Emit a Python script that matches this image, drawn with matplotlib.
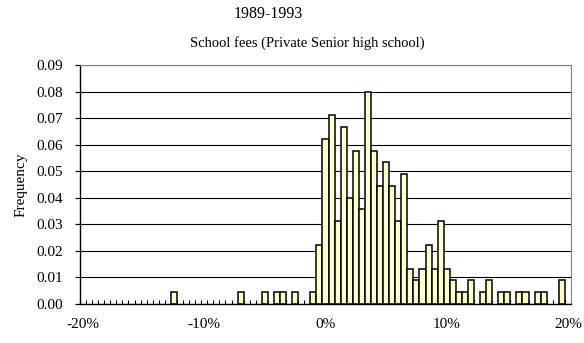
import numpy as np
import matplotlib
matplotlib.use("Agg")
import matplotlib.pyplot as plt
from matplotlib.ticker import FixedLocator

plt.rcParams['font.family'] = ['Liberation Serif', 'DejaVu Serif']

# Histogram bins (%, centre of each 0.5% class) that have a non-zero bar
bin_pct = [-12.5, -7.0, -5.0, -4.0, -3.5, -2.5, -1.0, -0.5,
           0.0, 0.5, 1.0, 1.5, 2.0, 2.5, 3.0, 3.5, 4.0, 4.5,
           5.0, 5.5, 6.0, 6.5, 7.0, 7.5, 8.0, 8.5, 9.0, 9.5,
           10.0, 10.5, 11.0, 11.5, 12.0, 13.0, 13.5, 14.5, 15.0,
           16.0, 16.5, 17.5, 18.0, 19.5]
freq = [0.0044, 0.0044, 0.0044, 0.0044, 0.0044, 0.0044, 0.0044, 0.0222,
        0.0622, 0.0711, 0.0311, 0.0667, 0.0400, 0.0578, 0.0356, 0.0800, 0.0578, 0.0444,
        0.0533, 0.0444, 0.0311, 0.0489, 0.0133, 0.0089, 0.0133, 0.0222, 0.0133, 0.0311,
        0.0133, 0.0089, 0.0044, 0.0044, 0.0089, 0.0044, 0.0089, 0.0044, 0.0044,
        0.0044, 0.0044, 0.0044, 0.0044, 0.0089]

x_ticks = [-20, -10, 0, 10, 20]
x_labels = ['-20%', '-10%', '0%', '10%', '20%']
y_ticks = [0.00, 0.01, 0.02, 0.03, 0.04, 0.05, 0.06, 0.07, 0.08, 0.09]

fig = plt.figure(figsize=(5.84, 3.43), dpi=100)
ax = fig.add_axes([0.137, 0.1137, 0.8407, 0.6968])

ax.bar(bin_pct, freq, width=0.5, color='#ffffcc', edgecolor='black', linewidth=1.1)

ax.set_xlim(-20.25, 20.25)
ax.set_ylim(0, 0.09)

# y axis
ax.set_yticks(y_ticks)
ax.set_yticklabels(['%.2f' % v for v in y_ticks])
ax.tick_params(axis='y', direction='out', length=3.6, width=0.9, pad=9, labelsize=11)
ax.yaxis.grid(True, color='black', linewidth=0.8)
ax.set_axisbelow(True)

# x axis: labels every 10%, small inside marks at class boundaries
ax.set_xticks(x_ticks)
ax.set_xticklabels(x_labels)
ax.tick_params(axis='x', which='major', length=0, pad=10, labelsize=11)
ax.xaxis.set_minor_locator(FixedLocator(np.arange(-20.25, 20.3, 0.5)))
ax.tick_params(axis='x', which='minor', direction='in', length=3, width=0.8)

ax.spines['left'].set_linewidth(1.0)
ax.spines['bottom'].set_linewidth(1.0)
ax.spines['top'].set_color('#808080')
ax.spines['right'].set_color('#808080')

ax.set_ylabel('Frequency', fontsize=11, labelpad=6)

fig.text(0.459, 0.958, '1989-1993', ha='center', va='center', fontsize=11.5)
fig.text(0.526, 0.875, 'School fees (Private Senior high school)', ha='center',
         va='center', fontsize=10.5)

fig.savefig('out.png', dpi=100)
